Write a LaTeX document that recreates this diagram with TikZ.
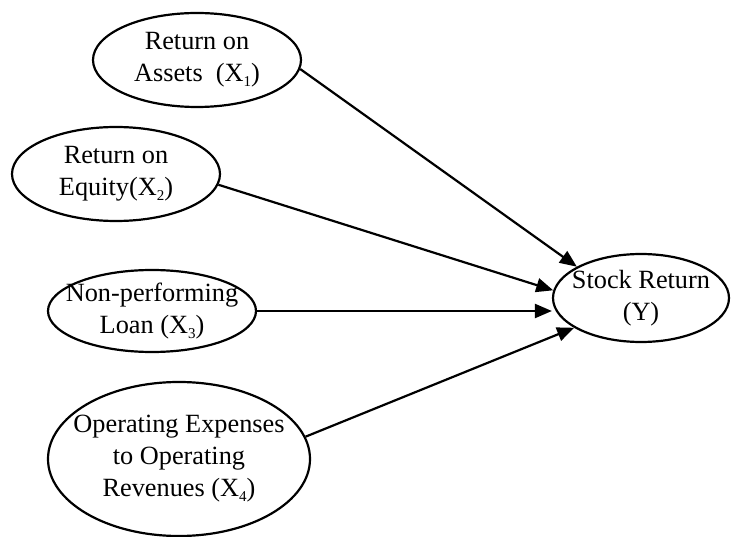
\documentclass[tikz,border=0pt]{standalone}
\usepackage{fontspec}
\setmainfont{Liberation Serif}
\usetikzlibrary{shapes.geometric,arrows.meta}
\newcommand\xsb[1]{\raisebox{-0.4ex}{\fontsize{15}{15}\selectfont #1}}
\tikzset{
  var/.style={draw, ellipse, line width=2.2pt, inner sep=0pt},
  lbl/.style={align=center, inner sep=0pt, font=\fontsize{26.3}{32}\selectfont},
  link/.style={line width=2.2pt, -{Triangle[length=17pt,width=14pt]}}
}
\begin{document}
\begin{tikzpicture}[x=1pt,y=-1pt]
\useasboundingbox (0,0) rectangle (731,537);
\node[var, minimum width=208pt, minimum height=94pt] (e1) at (197,60) {};
\node[lbl] (t1) at (e1) {Return on\\Assets\ \ (X\xsb{1})};
\node[var, minimum width=208pt, minimum height=94pt] (e2) at (116,174) {};
\node[lbl] (t2) at (e2) {Return on\\Equity(X\xsb{2})};
\node[var, minimum width=208pt, minimum height=82pt] (e3) at (152,311) {};
\node[lbl] (t3) at (e3) {Non-performing\\Loan (X\xsb{3})};
\node[var, minimum width=262pt, minimum height=154pt] (e4) at (179,459) {};
\node[lbl] (t4) at (e4) {Operating Expenses\\to Operating\\Revenues (X\xsb{4})};
\node[var, minimum width=176pt, minimum height=88pt] (y) at (641,298) {};
\node[lbl] (ty) at (y) {Stock Return\\(Y)};
\draw[link] (e1.-5) -- (y.154);
\draw[link] (e2.-6) -- (y.175);
\draw[link] (e3.east) -- (e3.east -| y.west);
\draw[link] (e4.10) -- (y.204);
\end{tikzpicture}
\end{document}
